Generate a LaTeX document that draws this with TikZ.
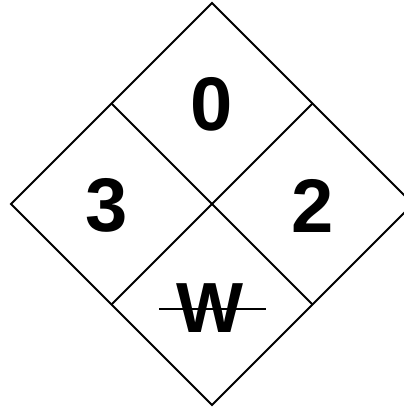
\documentclass[tikz,border=0pt]{standalone}
\usepackage{fontspec}
\setmainfont{Liberation Sans}
\begin{document}
\begin{tikzpicture}[x=1pt,y=-1pt,
  edge/.style={line width=2pt,line join=miter},
  num/.style={font=\fontsize{76}{76}\selectfont\bfseries,inner sep=0pt,anchor=center},
  wlet/.style={font=\fontsize{71}{71}\selectfont\bfseries,inner sep=0pt,anchor=center}]
\useasboundingbox (0,0) rectangle (404,408);
\begin{scope}
\clip (0,0) rectangle (404,408);
\coordinate (T) at (212,3);
\coordinate (L) at (11,204);
\coordinate (R) at (413,204);
\coordinate (B) at (212,405);
\coordinate (TL) at (111.5,103.5);
\coordinate (TR) at (312.5,103.5);
\coordinate (BL) at (111.5,304.5);
\coordinate (BR) at (312.5,304.5);
\draw[edge] (T) -- (R) -- (B) -- (L) -- cycle;
\draw[edge] (TL) -- (BR);
\draw[edge] (TR) -- (BL);
\end{scope}
\node[num] (n0) at (212,104.5) {0};
\node[num] (n3) at (107,205) {3};
\node[num] (n2) at (313,206) {2};
\node[wlet] (nw) at (210,308) {W};
\coordinate (s1) at (159,308.5);
\coordinate (s2) at (266,308.5);
\draw[line width=2pt] (s1) -- (s2);
\end{tikzpicture}
\end{document}
